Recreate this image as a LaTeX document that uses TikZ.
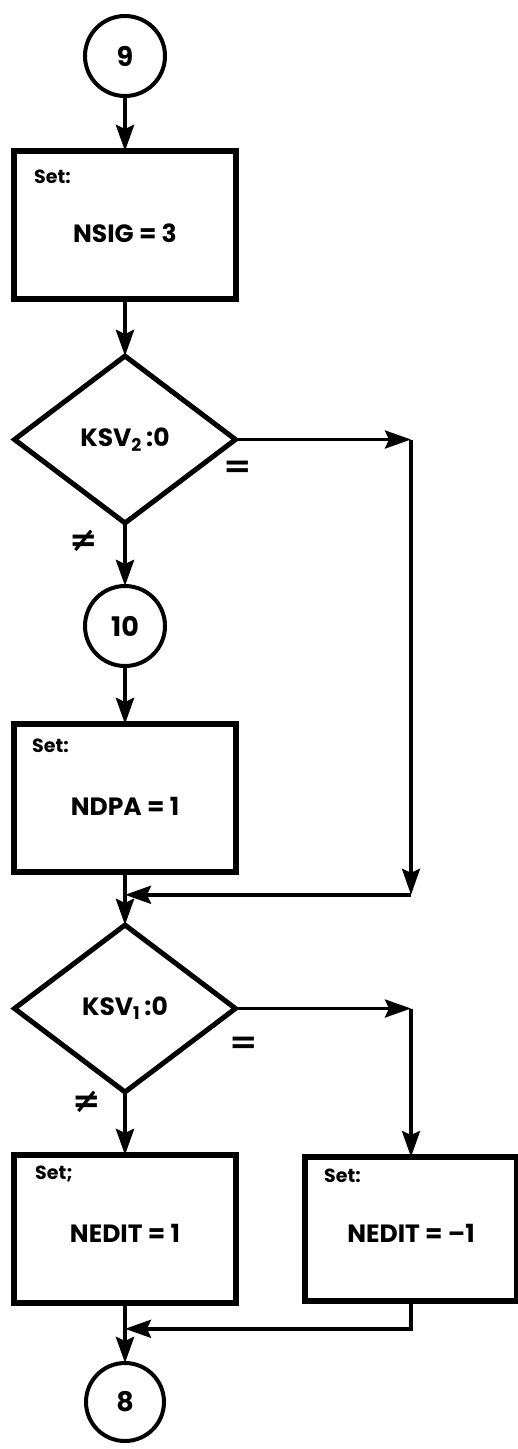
\documentclass[tikz,border=0pt]{standalone}
\usepackage{fontspec}
\setmainfont{Poppins}
\newfontfamily\symbfont{DejaVu Sans}
\usetikzlibrary{arrows.meta,positioning,calc,shapes.geometric}

\begin{document}
\begin{tikzpicture}[
  x=1pt, y=-1pt,
  conn/.style={
    draw, circle, line width=4pt, minimum size=80pt, inner sep=0pt, outer sep=0pt,
    font=\bfseries\fontsize{27}{29}\selectfont
  },
  setbox/.style={
    draw, rectangle, line width=6.5pt, minimum width=222pt, minimum height=148pt,
    inner sep=0pt, outer sep=0pt, text height=34pt, text depth=0pt,
    font=\bfseries\fontsize{25}{27}\selectfont
  },
  test/.style={
    draw, diamond, line width=5pt, minimum width=221pt, minimum height=167pt,
    inner sep=0pt, outer sep=0pt, font=\bfseries\fontsize{25}{27}\selectfont
  },
  setlbl/.style={anchor=west, inner sep=0pt, font=\bfseries\fontsize{19}{20}\selectfont},
  lbl/.style={inner sep=0pt, font=\symbfont\bfseries\fontsize{34}{36}\selectfont},
  arrow/.style={-{Stealth[length=26pt,width=18pt,inset=4pt]}, line width=4.5pt},
  loop/.style={-{Stealth[length=26pt,width=18pt,inset=4pt]}, line width=3.5pt}
]
  \useasboundingbox (0,0) rectangle (518,1449);
  \node[conn] (c9) at (125,56) {9};
  \node[setbox, below=55pt of c9] (b1) {NSIG = 3};
  \node[test, below=57pt of b1] (d1) {KSV\textsubscript{2}\,:0};
  \node[conn, below=63pt of d1] (c10) {10};
  \node[setbox, below=58pt of c10] (b2) {NDPA = 1};
  \node[test, below=53pt of b2] (d2) {KSV\textsubscript{1}\,:0};
  \node[setbox, below=63pt of d2, text height=26pt] (b3) {NEDIT = 1};
  \node[setbox, minimum width=212pt, minimum height=144pt, text height=26pt, right=69pt of b3] (b4) {NEDIT = –1};
  \node[conn, minimum size=78pt, below=60pt of b3] (c8) {8};
  % set labels
  \node[setlbl] at ([shift={(20,26)}]b1.north west) {Set:};
  \node[setlbl] at ([shift={(18,22)}]b2.north west) {Set:};
  \node[setlbl] at ([shift={(21,19)}]b3.north west) {Set;};
  \node[setlbl] at ([shift={(19,19)}]b4.north west) {Set:};
  % branch labels
  \node[lbl] (eq1) at ([shift={(2,30)}]d1.east) {=};
  \node[lbl] (ne1) at ([shift={(-41,18)}]d1.south) {≠};
  \node[lbl] (eq2) at ([shift={(8,37)}]d2.east) {=};
  \node[lbl] (ne2) at ([shift={(-38,10)}]d2.south) {≠};
  % corners
  \coordinate (m1) at ($(b2.south)!0.43!(d2.north)$);
  \coordinate (m2) at ($(b3.south)!0.43!(c8.north)$);
  \coordinate (r1) at (b4.north |- d1.east);
  \coordinate (r2) at (b4.north |- m1);
  \coordinate (r3) at (b4.north |- d2.east);
  \draw[arrow] (c9) -- (b1);
  \draw[arrow] (b1) -- (d1);
  \draw[arrow] (d1) -- (c10);
  \draw[arrow] (c10) -- (b2);
  \draw[arrow] (b2) -- (d2);
  \draw[arrow] (d2) -- (b3);
  \draw[arrow] (b3) -- (c8);
  \draw[loop] (d1.east) -- (r1);
  \draw[loop] (r1) -- (r2);
  \draw[loop] (r2) -- (m1);
  \draw[loop] (d2.east) -- (r3);
  \draw[loop] (r3) -- (b4.north);
  \draw[loop] (b4.south) |- (m2);
\end{tikzpicture}
\end{document}
